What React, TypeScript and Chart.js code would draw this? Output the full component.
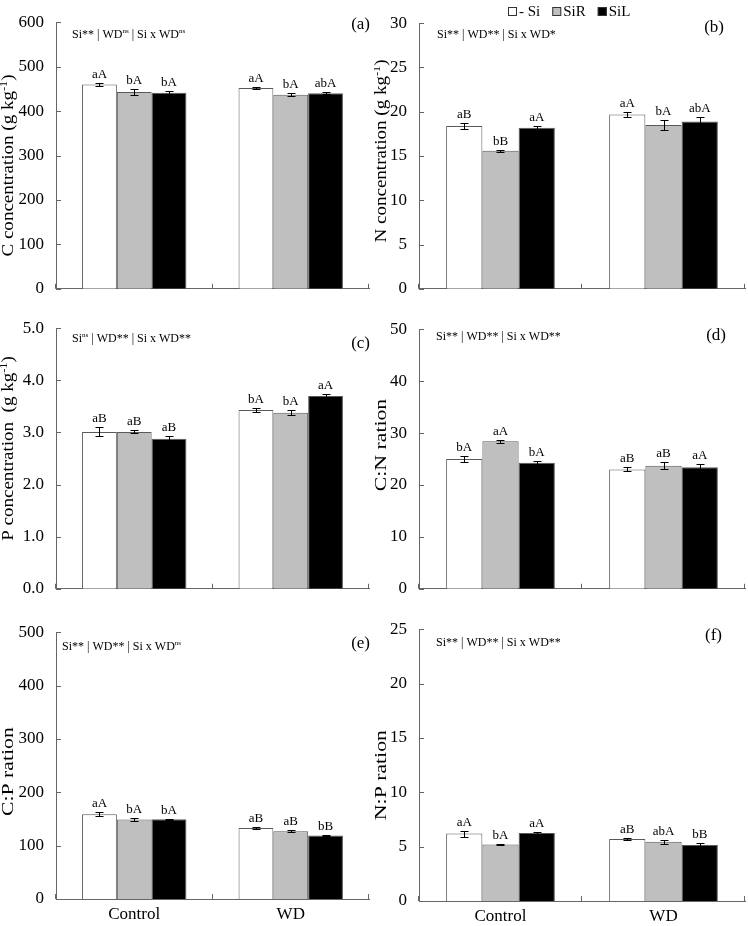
import React, { useEffect, useRef } from 'react';
import { Chart, registerables } from 'chart.js';

Chart.register(...registerables);

// ---------- data ----------
const categories = ['Control', 'WD'];
const treatments = ['- Si', 'SiR', 'SiL'];
const barColors = ['#ffffff', '#bfbfbf', '#000000'];

// (a) C concentration (g kg-1): [treatment][category]
const cMeans = [[460, 452], [443, 437], [441, 440]];
const cErrors = [[3, 2], [7, 3], [5, 2]];
const cLetters = [['aA', 'aA'], ['bA', 'bA'], ['bA', 'abA']];
const cAxis = [0, 600, 100];

// (b) N concentration (g kg-1)
const nMeans = [[18.4, 19.7], [15.6, 18.5], [18.2, 18.9]];
const nErrors = [[0.35, 0.3], [0.1, 0.55], [0.15, 0.5]];
const nLetters = [['aB', 'aA'], ['bB', 'bA'], ['aA', 'abA']];
const nAxis = [0, 30, 5];

// (c) P concentration (g kg-1)
const pMeans = [[3.01, 3.43], [3.01, 3.38], [2.88, 3.7]];
const pErrors = [[0.085, 0.03], [0.03, 0.05], [0.06, 0.04]];
const pLetters = [['aB', 'bA'], ['aB', 'bA'], ['aB', 'aA']];
const pAxis = [0, 5, 1];

// (d) C:N ration
const cnMeans = [[25.0, 23.0], [28.4, 23.7], [24.3, 23.4]];
const cnErrors = [[0.5, 0.4], [0.35, 0.65], [0.3, 0.6]];
const cnLetters = [['bA', 'aB'], ['aA', 'aB'], ['bA', 'aA']];
const cnAxis = [0, 50, 10];

// (e) C:P ration
const cpMeans = [[159, 133], [149, 127], [149.5, 119]];
const cpErrors = [[4, 2], [2, 1.5], [1, 1]];
const cpLetters = [['aA', 'aB'], ['bA', 'aB'], ['bA', 'bB']];
const cpAxis = [0, 500, 100];

// (f) N:P ration
const npMeans = [[6.2, 5.7], [5.2, 5.45], [6.25, 5.15]];
const npErrors = [[0.27, 0.08], [0.08, 0.2], [0.1, 0.15]];
const npLetters = [['aA', 'aB'], ['bA', 'abA'], ['aA', 'bB']];
const npAxis = [0, 25, 5];

// ---------- styling / layout ----------
const FONT = "'Liberation Serif', 'Times New Roman', serif";
const AXIS = '#666666';
const BAR_BORDER = '#595959';

type Seg = { t: string; sup?: boolean };

const supKg = (name: string): Seg[] => [{ t: name + ' (g kg' }, { t: '-1', sup: true }, { t: ')' }];

const columns = [
  { canvasLeft: 0, axisW: 56, plotRight: 369, titleX: 9 },
  { canvasLeft: 374, axisW: 45, plotRight: 745, titleX: 8 },
];

const panels = [
  {
    id: 'a', means: cMeans, errs: cErrors, letters: cLetters, axis: cAxis, decimals: 0,
    title: supKg('C concentration'), titleDy: 10, titleScale: 1.12,
    note: [{ t: 'Si** | WD' }, { t: 'ns', sup: true }, { t: ' | Si x WD' }, { t: 'ns', sup: true }] as Seg[],
    tag: '(a)', col: 0, plotTop: 12, plotBottom: 303, xLabels: false,
    noteDx: 16, noteDy: 13, tagDx: 1, tagDy: 2, legend: false,
  },
  {
    id: 'b', means: nMeans, errs: nErrors, letters: nLetters, axis: nAxis, decimals: 0,
    title: supKg('N concentration'), titleDy: -5, titleScale: 1.12,
    note: [{ t: 'Si** | WD** | Si x WD*' }] as Seg[],
    tag: '(b)', col: 1, plotTop: 13, plotBottom: 303, xLabels: false,
    noteDx: 18, noteDy: 12, tagDx: -21, tagDy: 4, legend: true,
  },
  {
    id: 'c', means: pMeans, errs: pErrors, letters: pLetters, axis: pAxis, decimals: 1,
    title: supKg('P concentration '), titleDy: -10, titleScale: 1.12,
    note: [{ t: 'Si' }, { t: 'ns', sup: true }, { t: ' | WD** | Si x WD**' }] as Seg[],
    tag: '(c)', col: 0, plotTop: 318, plotBottom: 603, xLabels: false,
    noteDx: 16, noteDy: 11, tagDx: 1, tagDy: 15, legend: false,
  },
  {
    id: 'd', means: cnMeans, errs: cnErrors, letters: cnLetters, axis: cnAxis, decimals: 0,
    title: [{ t: 'C:N ration' }] as Seg[], titleDy: -14, titleScale: 1.28,
    note: [{ t: 'Si** | WD** | Si x WD**' }] as Seg[],
    tag: '(d)', col: 1, plotTop: 319, plotBottom: 603, xLabels: false,
    noteDx: 17, noteDy: 8, tagDx: -19, tagDy: 6, legend: false,
  },
  {
    id: 'e', means: cpMeans, errs: cpErrors, letters: cpLetters, axis: cpAxis, decimals: 0,
    title: [{ t: 'C:P ration' }] as Seg[], titleDy: 6, titleScale: 1.28,
    note: [{ t: 'Si** | WD** | Si x WD' }, { t: 'ns', sup: true }] as Seg[],
    tag: '(e)', col: 0, plotTop: 622, plotBottom: 899, xLabels: true,
    noteDx: 6, noteDy: 15, tagDx: 1, tagDy: 11, legend: false,
  },
  {
    id: 'f', means: npMeans, errs: npErrors, letters: npLetters, axis: npAxis, decimals: 0,
    title: [{ t: 'N:P ration' }] as Seg[], titleDy: 10, titleScale: 1.28,
    note: [{ t: 'Si** | WD** | Si x WD**' }] as Seg[],
    tag: '(f)', col: 1, plotTop: 619, plotBottom: 901, xLabels: true,
    noteDx: 17, noteDy: 14, tagDx: -23, tagDy: 6, legend: false,
  },
];

type PanelCfg = (typeof panels)[number];

function segWidth(ctx: CanvasRenderingContext2D, segs: Seg[], size: number) {
  let w = 0;
  for (const s of segs) {
    ctx.font = `${s.sup ? Math.round(size * 0.62) : size}px ${FONT}`;
    w += ctx.measureText(s.t).width;
  }
  return w;
}

function drawSegs(ctx: CanvasRenderingContext2D, segs: Seg[], x: number, y: number, size: number) {
  let cx = x;
  for (const s of segs) {
    const fs = s.sup ? Math.round(size * 0.62) : size;
    ctx.font = `${fs}px ${FONT}`;
    ctx.fillText(s.t, cx, s.sup ? y - size * 0.3 : y);
    cx += ctx.measureText(s.t).width;
  }
}

function Panel({ cfg }: { cfg: PanelCfg }) {
  const ref = useRef<HTMLCanvasElement>(null);
  const col = columns[cfg.col];
  const padTop = 12;
  const xAxisH = cfg.xLabels ? 27 : 8;
  const canvasTop = cfg.plotTop - padTop;
  const width = 374;
  const height = padTop + (cfg.plotBottom - cfg.plotTop) + xAxisH;
  const padRight = col.canvasLeft + width - col.plotRight;

  useEffect(() => {
    const canvas = ref.current;
    if (!canvas) return;

    const overlay = {
      id: 'overlay_' + cfg.id,
      afterDatasetsDraw(chart: any) {
        const ctx: CanvasRenderingContext2D = chart.ctx;
        const yS = chart.scales.y;
        ctx.save();
        ctx.strokeStyle = '#000';
        ctx.lineWidth = 1;
        ctx.fillStyle = '#000';
        ctx.textAlign = 'center';
        ctx.textBaseline = 'alphabetic';
        ctx.font = `13px ${FONT}`;
        cfg.means.forEach((series, d) => {
          const meta = chart.getDatasetMeta(d);
          series.forEach((m, i) => {
            const el = meta.data[i];
            const e = cfg.errs[d][i];
            const x = Math.round(el.x) + 0.5;
            const top = Math.round(yS.getPixelForValue(m + e)) + 0.5;
            const bot = Math.round(yS.getPixelForValue(m - e)) + 0.5;
            ctx.beginPath();
            ctx.moveTo(x, top);
            ctx.lineTo(x, bot);
            ctx.moveTo(x - 4, top);
            ctx.lineTo(x + 4, top);
            ctx.moveTo(x - 4, bot);
            ctx.lineTo(x + 4, bot);
            ctx.stroke();
            ctx.fillText(cfg.letters[d][i], el.x, top - 6);
          });
        });
        ctx.restore();
      },
      afterDraw(chart: any) {
        const ctx: CanvasRenderingContext2D = chart.ctx;
        const area = chart.chartArea;
        const yS = chart.scales.y;
        const xS = chart.scales.x;
        ctx.save();
        // inward tick marks
        ctx.strokeStyle = AXIS;
        ctx.lineWidth = 1;
        ctx.beginPath();
        yS.ticks.forEach((t: any) => {
          const y = Math.round(yS.getPixelForValue(t.value)) + 0.5;
          ctx.moveTo(area.left, y);
          ctx.lineTo(area.left + 5, y);
        });
        const n = categories.length;
        for (let k = 0; k <= n; k++) {
          let x: number;
          if (k === 0) x = area.left;
          else if (k === n) x = area.right;
          else x = (xS.getPixelForValue(k - 1) + xS.getPixelForValue(k)) / 2;
          x = Math.round(x) - 0.5;
          ctx.moveTo(x, area.bottom);
          ctx.lineTo(x, area.bottom - 5);
        }
        ctx.stroke();

        ctx.fillStyle = '#000';
        // statistics note
        ctx.textAlign = 'left';
        ctx.textBaseline = 'middle';
        drawSegs(ctx, cfg.note, area.left + cfg.noteDx, area.top + cfg.noteDy, 12);

        // panel tag
        ctx.textAlign = 'right';
        ctx.font = `17px ${FONT}`;
        ctx.fillText(cfg.tag, area.right + cfg.tagDx, area.top + cfg.tagDy);

        // y-axis title (rotated)
        ctx.textAlign = 'left';
        const tsize = 17;
        const tw = segWidth(ctx, cfg.title, tsize);
        ctx.save();
        ctx.translate(col.titleX, (area.top + area.bottom) / 2 + cfg.titleDy);
        ctx.rotate(-Math.PI / 2);
        ctx.scale(cfg.titleScale, 1);
        drawSegs(ctx, cfg.title, -tw / 2, 0, tsize);
        ctx.restore();

        // legend
        if (cfg.legend) {
          const ly = 11.5 - canvasTop;
          let lx = area.left + 89;
          ctx.font = `15px ${FONT}`;
          ctx.textBaseline = 'middle';
          ctx.textAlign = 'left';
          treatments.forEach((name, d) => {
            ctx.fillStyle = barColors[d];
            ctx.fillRect(lx, ly - 4.5, 9, 9);
            ctx.strokeStyle = '#333';
            ctx.strokeRect(lx + 0.5, ly - 4, 8, 8);
            ctx.fillStyle = '#000';
            ctx.fillText(name, lx + 11, ly + 1);
            lx += 11 + ctx.measureText(name).width + 12;
          });
        }
        ctx.restore();
      },
    };

    const chart = new Chart(canvas, {
      type: 'bar',
      data: {
        labels: categories,
        datasets: treatments.map((name, d) => ({
          label: name,
          data: cfg.means[d],
          backgroundColor: barColors[d],
          borderColor: BAR_BORDER,
          borderWidth: 1,
          categoryPercentage: 0.667,
          barPercentage: 1.0,
        })),
      },
      options: {
        responsive: false,
        animation: false,
        devicePixelRatio: 1,
        layout: { padding: { top: padTop, right: padRight, left: 0, bottom: 0 } },
        plugins: {
          legend: { display: false },
          tooltip: { enabled: false },
        },
        scales: {
          x: {
            grid: { display: false, drawTicks: false },
            border: { display: true, color: AXIS, width: 1 },
            ticks: {
              display: cfg.xLabels,
              color: '#000',
              font: { family: FONT, size: 17 },
              padding: 5,
              maxRotation: 0,
            },
            afterFit: (s: any) => {
              s.height = xAxisH;
            },
          },
          y: {
            min: cfg.axis[0],
            max: cfg.axis[1],
            grid: { display: false, drawTicks: false },
            border: { display: true, color: AXIS, width: 1 },
            ticks: {
              stepSize: cfg.axis[2],
              color: '#000',
              font: { family: FONT, size: 17 },
              padding: 12,
              callback: (v: any) => Number(v).toFixed(cfg.decimals),
            },
            afterFit: (s: any) => {
              s.width = col.axisW;
            },
          },
        },
      },
      plugins: [overlay],
    } as any);
    return () => chart.destroy();
  }, []);

  return (
    <canvas
      ref={ref}
      width={width}
      height={height}
      style={{ position: 'absolute', left: col.canvasLeft, top: canvasTop, width, height }}
    />
  );
}

export default function App() {
  return (
    <div
      style={{
        position: 'absolute',
        left: 0,
        top: 0,
        width: 748,
        height: 926,
        overflow: 'hidden',
        background: '#fff',
      }}
    >
      {panels.map((p) => (
        <Panel key={p.id} cfg={p} />
      ))}
    </div>
  );
}
